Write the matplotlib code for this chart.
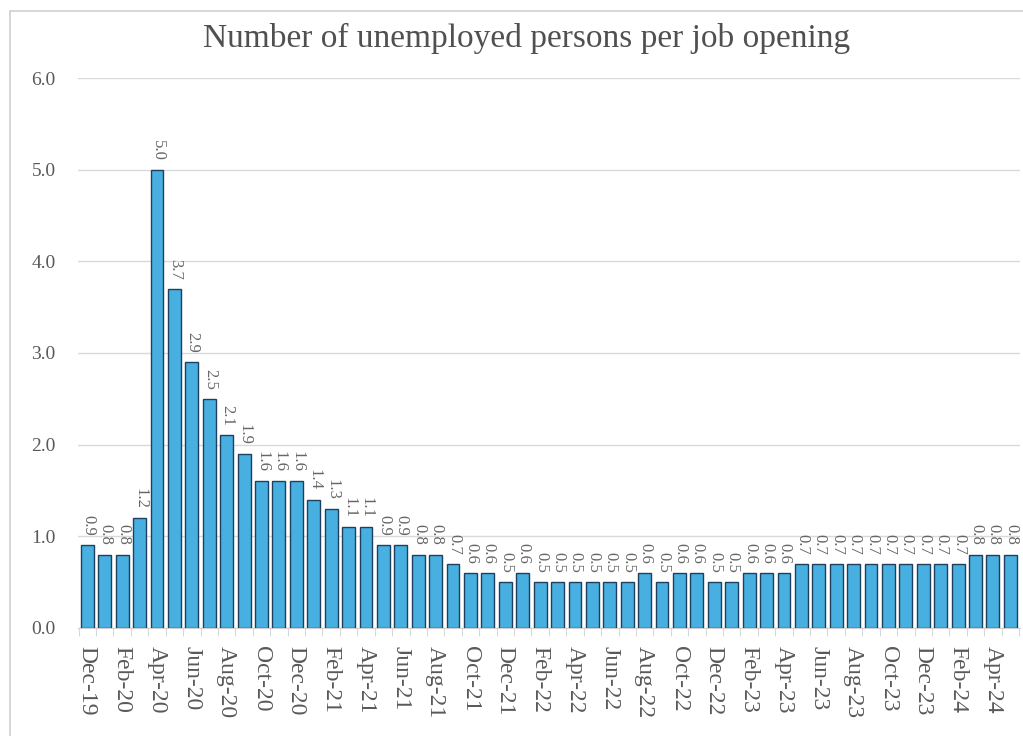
import matplotlib.pyplot as plt
from matplotlib.patches import Rectangle

# monthly series Dec-19 .. May-24
months = ['Dec-19', 'Jan-20', 'Feb-20', 'Mar-20', 'Apr-20', 'May-20', 'Jun-20', 'Jul-20',
          'Aug-20', 'Sep-20', 'Oct-20', 'Nov-20', 'Dec-20', 'Jan-21', 'Feb-21', 'Mar-21',
          'Apr-21', 'May-21', 'Jun-21', 'Jul-21', 'Aug-21', 'Sep-21', 'Oct-21', 'Nov-21',
          'Dec-21', 'Jan-22', 'Feb-22', 'Mar-22', 'Apr-22', 'May-22', 'Jun-22', 'Jul-22',
          'Aug-22', 'Sep-22', 'Oct-22', 'Nov-22', 'Dec-22', 'Jan-23', 'Feb-23', 'Mar-23',
          'Apr-23', 'May-23', 'Jun-23', 'Jul-23', 'Aug-23', 'Sep-23', 'Oct-23', 'Nov-23',
          'Dec-23', 'Jan-24', 'Feb-24', 'Mar-24', 'Apr-24', 'May-24']
ratio = [0.9, 0.8, 0.8, 1.2, 5.0, 3.7, 2.9, 2.5, 2.1, 1.9, 1.6, 1.6, 1.6, 1.4, 1.3, 1.1,
         1.1, 0.9, 0.9, 0.8, 0.8, 0.7, 0.6, 0.6, 0.5, 0.6, 0.5, 0.5, 0.5, 0.5, 0.5, 0.5,
         0.6, 0.5, 0.6, 0.6, 0.5, 0.5, 0.6, 0.6, 0.6, 0.7, 0.7, 0.7, 0.7, 0.7, 0.7, 0.7,
         0.7, 0.7, 0.7, 0.8, 0.8, 0.8]
yticks = [0.0, 1.0, 2.0, 3.0, 4.0, 5.0, 6.0]

plt.rcParams['font.family'] = ['Liberation Serif', 'DejaVu Serif']
grey = '#595959'

fig = plt.figure(figsize=(10.23, 7.36), dpi=100)
# light frame around the chart area
fig.patches.append(Rectangle((0.01, -0.01), 1.2, 0.995, transform=fig.transFigure,
                             fill=False, edgecolor='#d0d0d0', lw=1.2))

ax = fig.add_axes([0.076, 0.147, 0.921, 0.747])
x = list(range(len(ratio)))
bars = ax.bar(x, ratio, width=0.74, color='#47b0e0', edgecolor='#1f3f5f', linewidth=1.0, zorder=3)

for xi, v in zip(x, ratio):
    ax.text(xi + 0.05, v + 0.1, f'{v:.1f}', rotation=-90, ha='center', va='bottom',
            fontsize=12, color='#666666')

ax.set_ylim(0, 6)
ax.set_xlim(-0.55, len(ratio) - 0.45)
ax.set_yticks(yticks)
ax.set_yticklabels([f'{t:.1f}' for t in yticks], fontsize=14, color=grey)
ax.yaxis.grid(True, color='#d9d9d9', lw=1.0, zorder=0)
ax.tick_params(axis='y', length=0, pad=16)

ax.set_xticks(x[::2])
ax.set_xticklabels(months[::2], rotation=-90, fontsize=17, color=grey)
ax.set_xticks([i - 0.5 for i in range(len(ratio) + 1)], minor=True)
ax.tick_params(axis='x', which='major', length=0, pad=13)
ax.tick_params(axis='x', which='minor', length=6, color='#d0d0d0')

for s in ['top', 'right', 'left']:
    ax.spines[s].set_visible(False)
ax.spines['bottom'].set_color('#d0d0d0')

fig.text(0.515, 0.948, 'Number of unemployed persons per job opening', ha='center',
         va='center', fontsize=24, color='#505050')

fig.savefig('out.png', dpi=100)
